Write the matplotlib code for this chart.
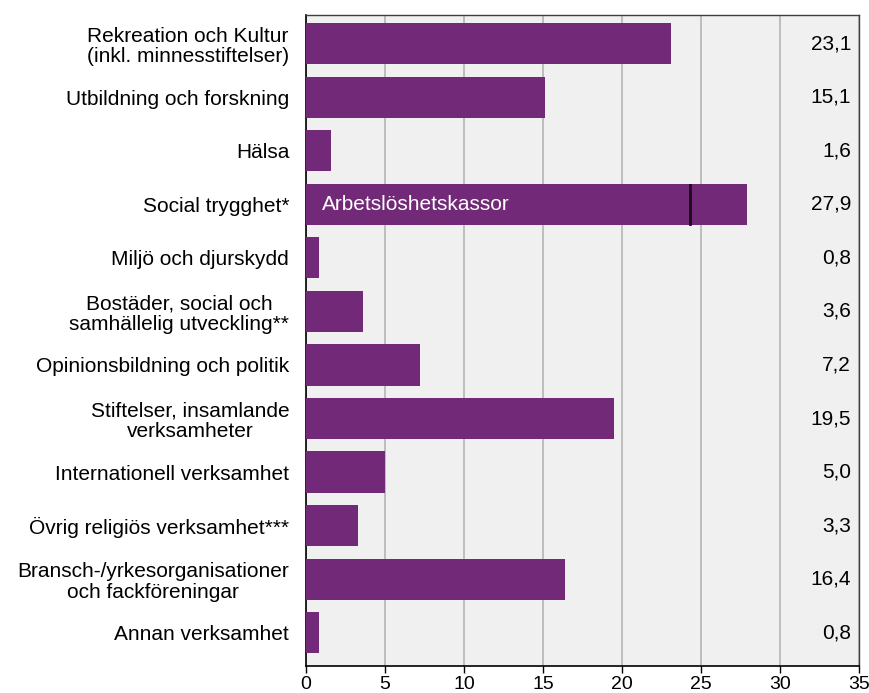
import matplotlib
matplotlib.use('Agg')
import matplotlib.pyplot as plt

plt.rcParams['font.family'] = ['Liberation Sans', 'DejaVu Sans']

categories = [
    'Rekreation och Kultur\n(inkl. minnesstiftelser)',
    'Utbildning och forskning',
    'Hälsa',
    'Social trygghet*',
    'Miljö och djurskydd',
    'Bostäder, social och\nsamhällelig utveckling**',
    'Opinionsbildning och politik',
    'Stiftelser, insamlande\nverksamheter',
    'Internationell verksamhet',
    'Övrig religiös verksamhet***',
    'Bransch-/yrkesorganisationer\noch fackföreningar',
    'Annan verksamhet',
]
values = [23.1, 15.1, 1.6, 27.9, 0.8, 3.6, 7.2, 19.5, 5.0, 3.3, 16.4, 0.8]
value_labels = ['23,1', '15,1', '1,6', '27,9', '0,8', '3,6', '7,2', '19,5', '5,0', '3,3', '16,4', '0,8']
akassa_share = 24.3  # del av social trygghet
akassa_text = 'Arbetslöshetskassor'

purple = '#722a78'
fs = 15

fig = plt.figure(figsize=(8.69, 6.93), dpi=100)
ax = fig.add_axes([0.352, 0.039, 0.9885 - 0.352, 0.978 - 0.039])
ax.set_facecolor('#f0f0f0')

y = list(range(len(categories)))
ax.barh(y, values, height=0.77, color=purple, zorder=3)

# gräns för a-kassor inom social trygghet
i = categories.index('Social trygghet*')
ax.plot([akassa_share, akassa_share], [i - 0.36, i + 0.36], color='#1a0a1a', lw=2, zorder=4)
ax.text(1.0, i, akassa_text, color='white', fontsize=fs, va='center', ha='left', zorder=5)

for yy, lab in zip(y, value_labels):
    ax.text(34.5, yy, lab, ha='right', va='center', fontsize=fs, color='black', zorder=5)

ax.set_xlim(0, 35)
ax.set_ylim(11.62, -0.53)
ax.set_xticks(range(0, 36, 5))
ax.set_yticks(y)
ax.set_yticklabels(categories, fontsize=fs)
for t in ax.get_yticklabels():
    t.set_multialignment('center')
    t.set_linespacing(1.12)
ax.tick_params(axis='y', length=0, pad=12)
ax.tick_params(axis='x', length=5, width=1, labelsize=14, pad=2, direction='out')

ax.grid(axis='x', color='#bdbdbd', lw=1.4, zorder=1)
ax.set_axisbelow(True)
for s in ['left', 'bottom']:
    ax.spines[s].set_color('black')
    ax.spines[s].set_linewidth(1.2)
for s in ['top', 'right']:
    ax.spines[s].set_color('#404040')
    ax.spines[s].set_linewidth(1.0)

fig.savefig('out.png', dpi=100)
